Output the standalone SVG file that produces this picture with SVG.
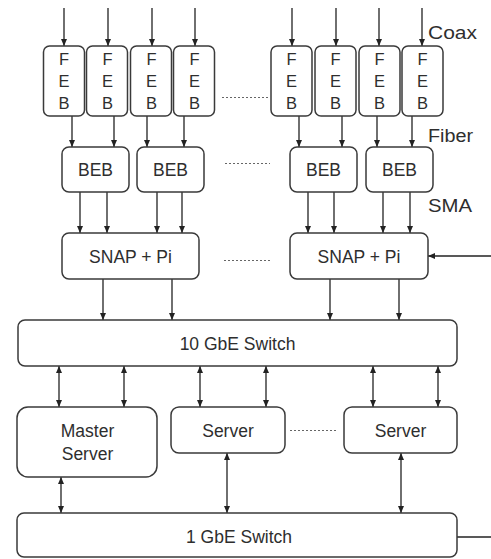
<svg xmlns="http://www.w3.org/2000/svg" width="491" height="559" viewBox="0 0 491 559">
<style>
.box{fill:#fff;stroke:#3a3a3a;stroke-width:1.5}
.t{font-family:"Liberation Sans",Arial,sans-serif;font-size:17.5px;fill:#2e2e2e;text-anchor:middle}
.f{font-family:"Liberation Sans",Arial,sans-serif;font-size:16.5px;fill:#2e2e2e;text-anchor:middle}
.lab{font-family:"Liberation Sans",Arial,sans-serif;font-size:17.5px;fill:#2e2e2e}
.c{stroke:#222;stroke-width:1.3;fill:none}
.a{marker-end:url(#ah)}
.b{marker-start:url(#ah);marker-end:url(#ah)}
.d{stroke:#666;stroke-width:1;stroke-dasharray:2,2;fill:none}
</style>
<defs>
<marker id="ah" markerUnits="userSpaceOnUse" markerWidth="7" markerHeight="6" refX="7" refY="3" orient="auto-start-reverse">
<path d="M0,0 L7,3 L0,6 z" fill="#222"/>
</marker>
</defs>
<g id="connectors">
<!-- inputs to FEB -->
<line class="c a" x1="64" y1="8" x2="64" y2="46"/>
<line class="c a" x1="108" y1="8" x2="108" y2="46"/>
<line class="c a" x1="152" y1="8" x2="152" y2="46"/>
<line class="c a" x1="195" y1="8" x2="195" y2="46"/>
<line class="c a" x1="292" y1="8" x2="292" y2="46"/>
<line class="c a" x1="336" y1="8" x2="336" y2="46"/>
<line class="c a" x1="379" y1="8" x2="379" y2="46"/>
<line class="c a" x1="422" y1="8" x2="422" y2="46"/>
<!-- FEB to BEB -->
<line class="c a" x1="72" y1="116" x2="72" y2="147"/>
<line class="c a" x1="114" y1="116" x2="114" y2="147"/>
<line class="c a" x1="147" y1="116" x2="147" y2="147"/>
<line class="c a" x1="184" y1="116" x2="184" y2="147"/>
<line class="c a" x1="299" y1="116" x2="299" y2="147"/>
<line class="c a" x1="342" y1="116" x2="342" y2="147"/>
<line class="c a" x1="377" y1="116" x2="377" y2="147"/>
<line class="c a" x1="412" y1="116" x2="412" y2="147"/>
<!-- BEB to SNAP -->
<line class="c a" x1="80" y1="192" x2="80" y2="233"/>
<line class="c a" x1="107" y1="192" x2="107" y2="233"/>
<line class="c a" x1="157" y1="192" x2="157" y2="233"/>
<line class="c a" x1="182" y1="192" x2="182" y2="233"/>
<line class="c a" x1="308" y1="192" x2="308" y2="233"/>
<line class="c a" x1="334" y1="192" x2="334" y2="233"/>
<line class="c a" x1="383" y1="192" x2="383" y2="233"/>
<line class="c a" x1="410" y1="192" x2="410" y2="233"/>
<!-- external into SNAP -->
<line class="c a" x1="491" y1="256" x2="428" y2="256"/>
<!-- SNAP to 10GbE -->
<line class="c a" x1="103" y1="279" x2="103" y2="320"/>
<line class="c a" x1="172" y1="279" x2="172" y2="320"/>
<line class="c a" x1="330" y1="279" x2="330" y2="320"/>
<line class="c a" x1="399" y1="279" x2="399" y2="320"/>
<!-- 10GbE to servers -->
<line class="c b" x1="59" y1="366" x2="59" y2="407"/>
<line class="c b" x1="124" y1="366" x2="124" y2="407"/>
<line class="c b" x1="200" y1="366" x2="200" y2="407"/>
<line class="c b" x1="266" y1="366" x2="266" y2="407"/>
<line class="c b" x1="373" y1="366" x2="373" y2="407"/>
<line class="c b" x1="438" y1="366" x2="438" y2="407"/>
<!-- servers to 1GbE -->
<line class="c b" x1="61" y1="477" x2="61" y2="513"/>
<line class="c b" x1="227" y1="453" x2="227" y2="513"/>
<line class="c b" x1="401" y1="453" x2="401" y2="513"/>
<!-- 1GbE out -->
<line class="c" x1="457" y1="537" x2="491" y2="537"/>
<!-- dotted continuation lines -->
<line class="d" x1="222" y1="97.5" x2="270" y2="97.5"/>
<line class="d" x1="225" y1="163.5" x2="270" y2="163.5"/>
<line class="d" x1="224" y1="260.5" x2="270" y2="260.5"/>
<line class="d" x1="290" y1="430.5" x2="337" y2="430.5"/>
</g>
<g id="feb1"><rect class="box" x="43.5" y="46" width="41" height="70" rx="6"/><text class="f" x="64" y="65">F</text><text class="f" x="64" y="87">E</text><text class="f" x="64" y="109">B</text></g>
<g id="feb2"><rect class="box" x="86.5" y="46" width="41" height="70" rx="6"/><text class="f" x="107.5" y="65">F</text><text class="f" x="107.5" y="87">E</text><text class="f" x="107.5" y="109">B</text></g>
<g id="feb3"><rect class="box" x="130.5" y="46" width="41" height="70" rx="6"/><text class="f" x="151.5" y="65">F</text><text class="f" x="151.5" y="87">E</text><text class="f" x="151.5" y="109">B</text></g>
<g id="feb4"><rect class="box" x="173.5" y="46" width="41" height="70" rx="6"/><text class="f" x="194.5" y="65">F</text><text class="f" x="194.5" y="87">E</text><text class="f" x="194.5" y="109">B</text></g>
<g id="feb5"><rect class="box" x="271" y="46" width="41" height="70" rx="6"/><text class="f" x="291.5" y="65">F</text><text class="f" x="291.5" y="87">E</text><text class="f" x="291.5" y="109">B</text></g>
<g id="feb6"><rect class="box" x="315" y="46" width="41" height="70" rx="6"/><text class="f" x="335.5" y="65">F</text><text class="f" x="335.5" y="87">E</text><text class="f" x="335.5" y="109">B</text></g>
<g id="feb7"><rect class="box" x="359" y="46" width="41" height="70" rx="6"/><text class="f" x="379.5" y="65">F</text><text class="f" x="379.5" y="87">E</text><text class="f" x="379.5" y="109">B</text></g>
<g id="feb8"><rect class="box" x="402" y="46" width="41" height="70" rx="6"/><text class="f" x="422.5" y="65">F</text><text class="f" x="422.5" y="87">E</text><text class="f" x="422.5" y="109">B</text></g>
<g id="beb1"><rect class="box" x="62" y="147" width="67" height="45" rx="7"/><text class="t" x="95.5" y="176">BEB</text></g>
<g id="beb2"><rect class="box" x="137" y="147" width="67" height="45" rx="7"/><text class="t" x="170.5" y="176">BEB</text></g>
<g id="beb3"><rect class="box" x="290" y="147" width="67" height="45" rx="7"/><text class="t" x="323.5" y="176">BEB</text></g>
<g id="beb4"><rect class="box" x="366" y="147" width="67" height="45" rx="7"/><text class="t" x="399.5" y="176">BEB</text></g>
<g id="snap1"><rect class="box" x="62" y="233" width="137" height="46" rx="7"/><text class="t" x="130.5" y="263">SNAP + Pi</text></g>
<g id="snap2"><rect class="box" x="290" y="233" width="138" height="46" rx="7"/><text class="t" x="359" y="263">SNAP + Pi</text></g>
<g id="switch10"><rect class="box" x="18" y="320" width="439" height="46" rx="7"/><text class="t" x="237.5" y="350">10 GbE Switch</text></g>
<g id="master"><rect class="box" x="17" y="407" width="140" height="70" rx="11"/><text class="t" x="87.5" y="437">Master</text><text class="t" x="87.5" y="460">Server</text></g>
<g id="server1"><rect class="box" x="171" y="407" width="114" height="46" rx="8"/><text class="t" x="228" y="437">Server</text></g>
<g id="server2"><rect class="box" x="344" y="407" width="113" height="46" rx="8"/><text class="t" x="400.5" y="437">Server</text></g>
<g id="switch1"><rect class="box" x="17" y="513" width="440" height="44" rx="7"/><text class="t" x="239" y="543">1 GbE Switch</text></g>
<g id="labels">
<text class="lab" x="428" y="39" textLength="49" lengthAdjust="spacingAndGlyphs">Coax</text>
<text class="lab" x="428" y="141.5" textLength="45" lengthAdjust="spacingAndGlyphs">Fiber</text>
<text class="lab" x="428" y="211.5" textLength="44" lengthAdjust="spacingAndGlyphs">SMA</text>
</g>
</svg>
